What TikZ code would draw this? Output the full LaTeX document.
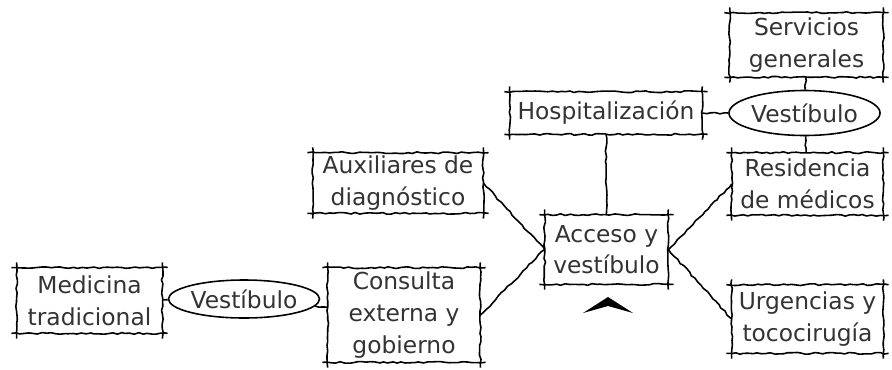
\documentclass[tikz,border=0pt]{standalone}
\usepackage{fontspec}
\setmainfont{DejaVu Sans}
\usetikzlibrary{shapes.geometric,decorations.pathmorphing}
\definecolor{inkgray}{HTML}{333333}

\begin{document}
\begin{tikzpicture}[
  x=0.02cm, y=-0.02cm,
  font=\fontsize{13.3}{18}\selectfont,
  rough/.style={decorate, decoration={random steps, segment length=2.5pt, amplitude=0.5pt},
                line width=0.9pt, black},
  room/.style={align=center, inner sep=1pt, text=inkgray},
  hall/.style={ellipse, draw=black, line width=0.9pt, inner sep=0pt, text=inkgray},
  link/.style={rough}
]
\pgfmathsetseed{11}
\useasboundingbox (0,0) rectangle (892,369);
% ---------------- Rooms ----------------
\node[room, minimum width=2.9cm, minimum height=1.3cm] (med) at (89.5,300.5) {Medicina\\tradicional};
\node[hall, minimum width=2.44cm, minimum height=0.76cm] (vl) at (244,299) {Vestíbulo};
\node[room, minimum width=3.04cm, minimum height=1.88cm] (cons) at (404,315) {Consulta\\externa y\\gobierno};
\node[room, minimum width=3.4cm, minimum height=1.2cm] (aux) at (398,183) {Auxiliares de\\diagnóstico};
\node[room, minimum width=2.46cm, minimum height=1.38cm] (acc) at (606.5,249.5) {Acceso y\\vestíbulo};
\node[room, minimum width=3.84cm, minimum height=0.84cm] (hosp) at (606,113) {Hospitalización};
\node[hall, minimum width=2.3cm, minimum height=0.9cm] (vt) at (804.5,113) {Vestíbulo};
\node[room, minimum width=3.06cm, minimum height=1.28cm] (serv) at (806.5,45) {Servicios\\generales};
\node[room, minimum width=3.02cm, minimum height=1.24cm] (res) at (807.5,184) {Residencia\\de médicos};
\node[room, minimum width=3.02cm, minimum height=1.36cm] (urg) at (807.5,319) {Urgencias y\\tococirugía};
% outlines with overshooting corners
\foreach \n in {med,cons,aux,acc,hosp,serv,res,urg}{
  \draw[rough] ([xshift=-3pt]\n.north west) -- ([xshift=3pt]\n.north east);
  \draw[rough] ([xshift=-3pt]\n.south west) -- ([xshift=3pt]\n.south east);
  \draw[rough] ([yshift=3pt]\n.north west) -- ([yshift=-3pt]\n.south west);
  \draw[rough] ([yshift=3pt]\n.north east) -- ([yshift=-3pt]\n.south east);
}
% ---------------- Links ----------------
\draw[link] (med) -- (vl);
\draw[link] (vl) -- (cons);
\draw[link] (cons.east) -- (acc.west);
\draw[link] (aux.east) -- (acc.west);
\draw[link] (hosp) -- (acc);
\draw[link] (hosp) -- (vt);
\draw[link] (vt) -- (serv);
\draw[link] (vt) -- (res);
\draw[link] (acc.east) -- (res.west);
\draw[link] (acc.east) -- (urg.west);
% entrance mark
\fill[black] (583,313) -- (608,297) -- (633,313) -- (608,306) -- cycle;
\end{tikzpicture}
\end{document}
